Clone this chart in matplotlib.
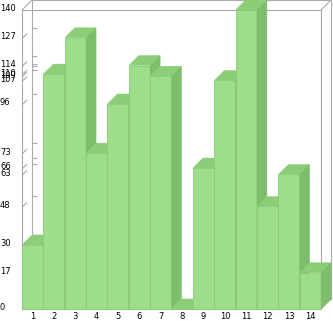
import matplotlib
matplotlib.use("Agg")
import matplotlib.pyplot as plt
from matplotlib.patches import Polygon

# data
categories = [str(i) for i in range(1, 15)]
values = [30, 110, 127, 73, 96, 114, 109, 0, 66, 107, 140, 48, 63, 17]
y_max = 140

front_clr = '#9ede8a'
top_clr = '#8cce78'
side_clr = '#7ebe6a'
edge_clr = '#8cc97a'
frame_clr = '#aaaaaa'

W, H = 333, 321
fig = plt.figure(figsize=(W / 100, H / 100), dpi=100)
# front plane of the box, in pixels
left, bottom, width, height = 22, 12, 299, 299
ax = fig.add_axes([left / W, bottom / H, width / W, height / H])
ax.set_xlim(0.5, len(values) + 0.5)
ax.set_ylim(0, y_max)
ax.axis('off')

# depth offset (10px right, 10px up) in data units
depth_px = 10
dx = depth_px * len(values) / width
dy = depth_px * y_max / height

x0, x1 = 0.5, len(values) + 0.5
lw = 0.8

# frame / walls
def line(xs, ys, z=1):
    ax.plot(xs, ys, color=frame_clr, lw=lw, clip_on=False, zorder=z, solid_capstyle='butt')

line([x0 + dx, x1 + dx, x1 + dx, x0 + dx, x0 + dx], [dy, dy, y_max + dy, y_max + dy, dy])
line([x0, x1, x1, x0, x0], [0, 0, y_max, y_max, 0])
for cx, cy in [(x0, 0), (x1, 0), (x0, y_max), (x1, y_max)]:
    line([cx, cx + dx], [cy, cy + dy])

ticks = sorted(set(values))
for v in ticks:
    if v in (0, y_max):
        continue
    line([x0 + dx, x0 + dx * 1.5], [v + dy, v + dy])
    line([x0, x0 + dx / 2], [v - dy * 0.1, v + dy * 0.4])

# bars, drawn left to right so each covers the side of the previous one
bars = ax.bar(range(1, len(values) + 1), values, width=1.0, color=front_clr,
              edgecolor=edge_clr, linewidth=0.6, clip_on=False)
for i, (b, v) in enumerate(zip(bars, values)):
    z = 3 + i * 0.1
    b.set_zorder(z)
    xl, xr = b.get_x(), b.get_x() + b.get_width()
    top = Polygon([(xl, v), (xr, v), (xr + dx, v + dy), (xl + dx, v + dy)],
                  closed=True, facecolor=top_clr, edgecolor=top_clr, lw=0.3,
                  clip_on=False, zorder=z + 0.01)
    side = Polygon([(xr, 0), (xr + dx, dy), (xr + dx, v + dy), (xr, v)],
                   closed=True, facecolor=side_clr, edgecolor=side_clr, lw=0.3,
                   clip_on=False, zorder=z + 0.02)
    ax.add_patch(top)
    ax.add_patch(side)

# labels
for v in ticks:
    ax.text(-left / width * (x1 - x0) + x0, v + 0.5, str(v), fontsize=6,
            ha='left', va='center', color='black', clip_on=False)
for i, c in enumerate(categories):
    ax.text(i + 1, -3.6, c, fontsize=6, ha='center', va='center',
            color='black', clip_on=False)

fig.savefig('out.png', dpi=100)
